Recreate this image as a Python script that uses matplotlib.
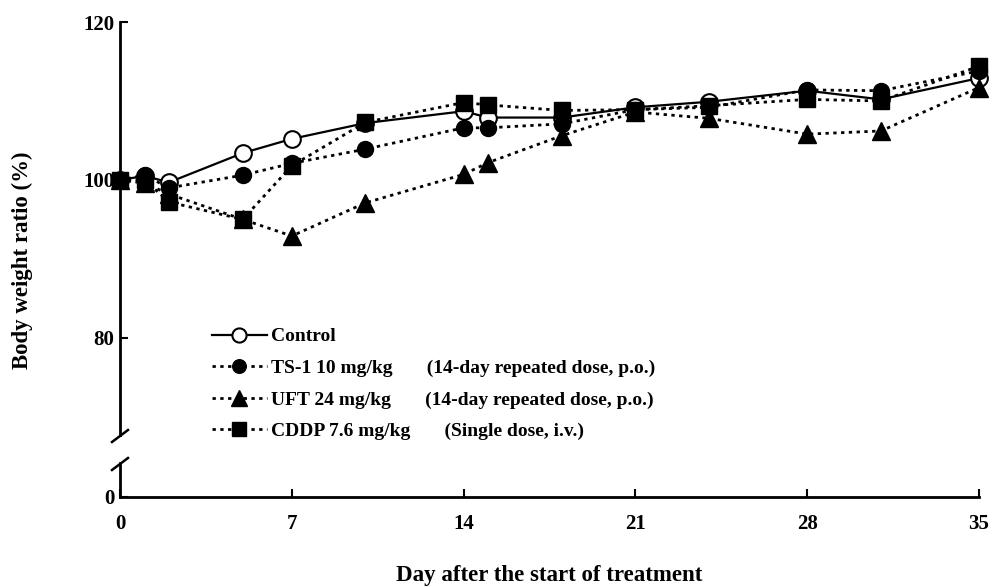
import matplotlib
matplotlib.use("Agg")
import matplotlib.pyplot as plt

# days of measurement
days = [0, 1, 2, 5, 7, 10, 14, 15, 18, 21, 24, 28, 31, 35]

# body weight ratio (%)
control = [100, 100.5, 99.7, 103.4, 105.2, 107.2, 108.7, 107.9, 107.9, 109.2, 109.9, 111.3, 110.2, 112.9]
ts1 = [100, 100.6, 99.0, 100.6, 102.1, 103.9, 106.6, 106.6, 107.1, 108.9, 109.2, 111.4, 111.3, 113.8]
uft = [100, 99.6, 98.2, 95.0, 92.9, 97.1, 100.7, 102.2, 105.6, 108.6, 107.8, 105.8, 106.2, 111.7]
cddp = [100, 100.0, 97.2, 95.0, 101.8, 107.3, 109.8, 109.5, 108.8, 108.9, 109.4, 110.2, 110.0, 114.4]

labels = ["Control",
          "TS-1 10 mg/kg       (14-day repeated dose, p.o.)",
          "UFT 24 mg/kg       (14-day repeated dose, p.o.)",
          "CDDP 7.6 mg/kg       (Single dose, i.v.)"]
xticks = [0, 7, 14, 21, 28, 35]
yticks = [80, 100, 120]

plt.rcParams['font.family'] = ['Liberation Serif', 'DejaVu Serif']
plt.rcParams['font.weight'] = 'bold'

W, H = 995, 587
fig = plt.figure(figsize=(W / 100, H / 100), dpi=100)

left = 120 / W
width = 859 / W
ax = fig.add_axes([left, 1 - 435 / H, width, (435 - 22) / H])
axb = fig.add_axes([left, 1 - 497 / H, width, (497 - 463) / H])

dot = (0, (1.2, 1.6))
ax.plot(days, control, '-', color='black', lw=1.6, marker='o', ms=12,
        mfc='white', mec='black', mew=1.5, clip_on=False, label=labels[0])
ax.plot(days, ts1, linestyle=dot, color='black', lw=2.0, marker='o', ms=11.5,
        mfc='black', mec='black', clip_on=False, label=labels[1])
ax.plot(days, uft, linestyle=dot, color='black', lw=2.0, marker='^', ms=13,
        mfc='black', mec='black', clip_on=False, label=labels[2])
ax.plot(days, cddp, linestyle=dot, color='black', lw=2.0, marker='s', ms=12,
        mfc='black', mec='black', clip_on=False, label=labels[3])

ax.set_xlim(0, 35)
ax.set_ylim(67.7, 120)
axb.set_xlim(0, 35)
axb.set_ylim(0, 1)

for a in (ax, axb):
    a.spines['top'].set_visible(False)
    a.spines['right'].set_visible(False)
    a.spines['left'].set_linewidth(2)
    a.spines['bottom'].set_linewidth(2)
    a.tick_params(direction='in', length=6, width=1.5, labelsize=15)

ax.spines['bottom'].set_visible(False)
ax.set_xticks([])
ax.set_yticks(yticks)
ax.tick_params(axis='y', pad=4)

axb.set_yticks([0])
axb.set_xticks(xticks)
axb.tick_params(axis='x', pad=12)
axb.tick_params(axis='y', pad=4)
axb.patch.set_alpha(0)

# break marks on the y axis
kw = dict(color='black', lw=1.8, clip_on=False, transform=fig.transFigure)
fig.add_artist(plt.Line2D([112 / W, 128 / W], [1 - 442 / H, 1 - 430 / H], **kw))
fig.add_artist(plt.Line2D([112 / W, 128 / W], [1 - 470 / H, 1 - 458 / H], **kw))

leg = ax.legend(loc='upper left', bbox_to_anchor=(202 / W, 1 - 318 / H),
                bbox_transform=fig.transFigure, frameon=False, fontsize=14,
                handlelength=2.85, handletextpad=0.2, labelspacing=0.72,
                borderpad=0, markerscale=0.85)

fig.text(22 / W, 1 - 260 / H, "Body weight ratio (%)", rotation=90,
         ha='center', va='center', fontsize=16.5, fontweight='bold')
fig.text(549 / W, 1 - 576 / H, "Day after the start of treatment",
         ha='center', va='center', fontsize=16.5, fontweight='bold')

fig.savefig("out.png", dpi=100)
